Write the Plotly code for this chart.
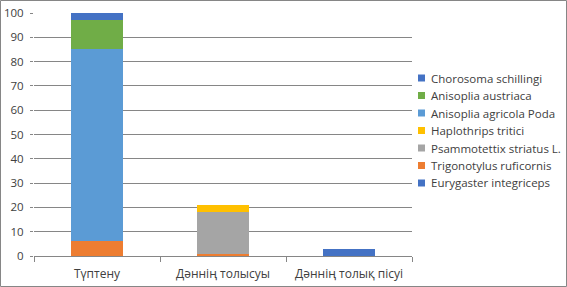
import plotly.graph_objects as go

categories = ["Түптену", "Дәннің толысуы", "Дәннің толық пісуі"]
eurygaster = [0, 0, 3]
trigonotylus = [6, 1, 0]
psammotettix = [0, 17, 0]
haplothrips = [0, 3, 0]
anisoplia_agricola = [79, 0, 0]
anisoplia_austriaca = [12, 0, 0]
chorosoma = [3, 0, 0]

series = [
    ("Eurygaster integriceps", eurygaster, "#4472C4"),
    ("Trigonotylus ruficornis", trigonotylus, "#ED7D31"),
    ("Psammotettix striatus L.", psammotettix, "#A5A5A5"),
    ("Haplothrips tritici", haplothrips, "#FFC000"),
    ("Anisoplia agricola Poda", anisoplia_agricola, "#5B9BD5"),
    ("Anisoplia austriaca", anisoplia_austriaca, "#70AD47"),
    ("Chorosoma schillingi", chorosoma, "#4472C4"),
]

fig = go.Figure()
for name, vals, color in series:
    fig.add_trace(go.Bar(x=categories, y=vals, name=name, showlegend=False,
                         marker=dict(color=color, line=dict(width=0))))

W, H = 567, 287
L, R, T, B = 34, 155, 13, 31
pw, ph = W - L - R, H - T - B

def px_x(px):
    return (px - L) / pw

def px_y(py):
    return (H - B - py) / ph

shapes = [dict(type="rect", xref="paper", yref="paper",
               x0=px_x(0.5), x1=px_x(W - 0.5), y0=px_y(H - 0.5), y1=px_y(0.5),
               line=dict(color="#868686", width=1), fillcolor="rgba(0,0,0,0)", layer="below")]
annotations = []
# legend entries (top entry = last series), drawn as a manual legend
leg_top, leg_step = 78, 17.5
for i, (name, vals, color) in enumerate(reversed(series)):
    cy = leg_top + i * leg_step
    shapes.append(dict(type="rect", xref="paper", yref="paper",
                       x0=px_x(418), x1=px_x(425), y0=px_y(cy + 3.5), y1=px_y(cy - 3.5),
                       line=dict(width=0), fillcolor=color))
    annotations.append(dict(xref="paper", yref="paper", x=px_x(428.5), y=px_y(cy),
                            xanchor="left", yanchor="middle", showarrow=False, text=name,
                            font=dict(size=11.5, color="#404040")))

fig.update_layout(
    width=W, height=H,
    barmode="stack", bargap=0.595,
    margin=dict(l=L, r=R, t=T, b=B, autoexpand=False),
    paper_bgcolor="white", plot_bgcolor="white",
    font=dict(family="Open Sans", size=11, color="#404040"),
    showlegend=False,
    xaxis=dict(showgrid=False, showline=True, linecolor="#868686", linewidth=1,
               ticks="outside", tickson="boundaries", ticklen=5, tickcolor="#868686",
               ticklabelstandoff=7,
               tickfont=dict(size=12, color="#404040")),
    yaxis=dict(range=[0, 100], dtick=10, showgrid=True, gridcolor="#868686", gridwidth=1,
               showline=False, ticks="outside", ticklen=3, tickcolor="#868686",
               ticklabelstandoff=4,
               zeroline=False, tickfont=dict(size=11.5, color="#404040")),
    shapes=shapes,
    annotations=annotations,
)

fig.write_html("out.html")
